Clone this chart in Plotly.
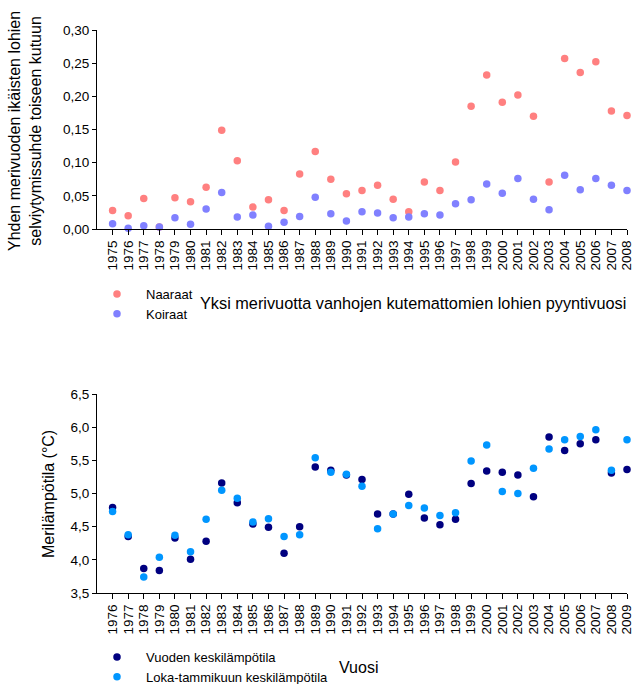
import plotly.graph_objects as go

# Survival ratio of one-sea-winter salmon to second spawning, by catch year
years_top = list(range(1975, 2009))
naaraat = [0.028, 0.020, 0.046, 0.003, 0.047, 0.041, 0.063, 0.149, 0.103, 0.033,
           0.044, 0.028, 0.083, 0.117, 0.075, 0.053, 0.058, 0.066, 0.045, 0.026,
           0.071, 0.058, 0.101, 0.185, 0.232, 0.191, 0.202, 0.170, 0.071, 0.257,
           0.236, 0.252, 0.178, 0.171]
koiraat = [0.008, 0.001, 0.005, 0.003, 0.017, 0.007, 0.030, 0.055, 0.018, 0.021,
           0.004, 0.010, 0.019, 0.048, 0.023, 0.012, 0.026, 0.024, 0.017, 0.018,
           0.023, 0.021, 0.038, 0.044, 0.068, 0.054, 0.076, 0.045, 0.029, 0.081,
           0.059, 0.076, 0.066, 0.058]

# Sea temperature (°C) by year
years_bottom = list(range(1976, 2010))
vuoden = [4.79, 4.35, 3.87, 3.84, 4.33, 4.01, 4.28, 5.16, 4.86, 4.54,
          4.49, 4.10, 4.50, 5.40, 5.35, 5.28, 5.21, 4.69, 4.69, 4.99,
          4.63, 4.53, 4.61, 5.15, 5.34, 5.32, 5.28, 4.95, 5.85, 5.65,
          5.75, 5.81, 5.31, 5.36]
loka_tammi = [4.73, 4.38, 3.74, 4.04, 4.37, 4.12, 4.61, 5.05, 4.93, 4.57,
              4.62, 4.35, 4.38, 5.54, 5.32, 5.29, 5.11, 4.47, 4.69, 4.82,
              4.78, 4.67, 4.71, 5.49, 5.73, 5.03, 5.00, 5.38, 5.67, 5.81,
              5.86, 5.96, 5.35, 5.81]

W, H = 633, 684
L, R, T, B = 97, 6, 30, 91
PW, PH = W - L - R, H - T - B


def px_x(x):
    return (x - L) / PW


def px_y(y):
    return (H - B - y) / PH


FONT = "Liberation Sans, Arial, sans-serif"
MS = 7.5

fig = go.Figure()
fig.add_trace(go.Scatter(x=years_top, y=naaraat, mode="markers", name="Naaraat",
                         marker=dict(color="#FF8080", size=MS, line=dict(width=0)),
                         xaxis="x", yaxis="y", legend="legend", cliponaxis=False))
fig.add_trace(go.Scatter(x=years_top, y=koiraat, mode="markers", name="Koiraat",
                         marker=dict(color="#8080FF", size=MS, line=dict(width=0)),
                         xaxis="x", yaxis="y", legend="legend", cliponaxis=False))
fig.add_trace(go.Scatter(x=years_bottom, y=vuoden, mode="markers",
                         name="Vuoden keskilämpötila",
                         marker=dict(color="#000080", size=MS, line=dict(width=0)),
                         xaxis="x2", yaxis="y2", legend="legend2", cliponaxis=False))
fig.add_trace(go.Scatter(x=years_bottom, y=loka_tammi, mode="markers",
                         name="Loka-tammikuun keskilämpötila",
                         marker=dict(color="#0096FF", size=MS, line=dict(width=0)),
                         xaxis="x2", yaxis="y2", legend="legend2", cliponaxis=False))

axis_common = dict(showline=True, linecolor="black", linewidth=1, showgrid=False,
                   zeroline=False, ticks="outside", tickcolor="black", tickwidth=1,
                   automargin=False, ticklabeloverflow="allow")

fig.update_layout(
    width=W, height=H,
    margin=dict(l=L, r=R, t=T, b=B, autoexpand=False),
    paper_bgcolor="white", plot_bgcolor="white",
    font=dict(family=FONT, color="black", size=13),
    separators=",.",
    xaxis=dict(axis_common, domain=[0, 1], anchor="y", range=[1974, 2008],
               tickmode="array", tickvals=years_top,
               ticktext=[str(y) for y in years_top], tickangle=-90,
               ticklen=5, tickfont=dict(size=13.5)),
    yaxis=dict(axis_common, domain=[px_y(229), 1], anchor="x", range=[0, 0.30],
               dtick=0.05, tickformat=".2f", ticklen=4, tickfont=dict(size=13.5)),
    xaxis2=dict(axis_common, domain=[0, 1], anchor="y2", range=[1975, 2009],
                tickmode="array", tickvals=years_bottom,
                ticktext=[str(y) for y in years_bottom], tickangle=-90,
                ticklen=5, tickfont=dict(size=13.5)),
    yaxis2=dict(axis_common, domain=[0, px_y(394)], anchor="x2", range=[3.5, 6.5],
                dtick=0.5, tickformat=".1f", ticklen=4, tickfont=dict(size=13.5)),
    legend=dict(xref="container", yref="container", x=88 / W, y=1 - 279 / H,
                xanchor="left", yanchor="top", font=dict(size=13),
                bgcolor="rgba(0,0,0,0)", itemwidth=48),
    legend2=dict(xref="container", yref="container", x=88 / W, y=1 - 642 / H,
                 xanchor="left", yanchor="top", font=dict(size=13),
                 bgcolor="rgba(0,0,0,0)", itemwidth=48),
    showlegend=True,
    annotations=[
        dict(text="Yhden merivuoden ikäisten lohien<br>selviytymissuhde toiseen kutuun",
             x=px_x(25), y=px_y(131), xref="paper", yref="paper",
             textangle=-90, showarrow=False, font=dict(size=16),
             xanchor="center", yanchor="middle"),
        dict(text="Yksi merivuotta vanhojen kutemattomien lohien pyyntivuosi",
             x=px_x(413), y=px_y(303), xref="paper", yref="paper",
             showarrow=False, font=dict(size=16.3), xanchor="center", yanchor="middle"),
        dict(text="Merilämpötila (°C)",
             x=px_x(48), y=px_y(494), xref="paper", yref="paper",
             textangle=-90, showarrow=False, font=dict(size=16),
             xanchor="center", yanchor="middle"),
        dict(text="Vuosi",
             x=px_x(358), y=px_y(667), xref="paper", yref="paper",
             showarrow=False, font=dict(size=16), xanchor="center", yanchor="middle"),
    ],
)

fig.write_html("out.html")
